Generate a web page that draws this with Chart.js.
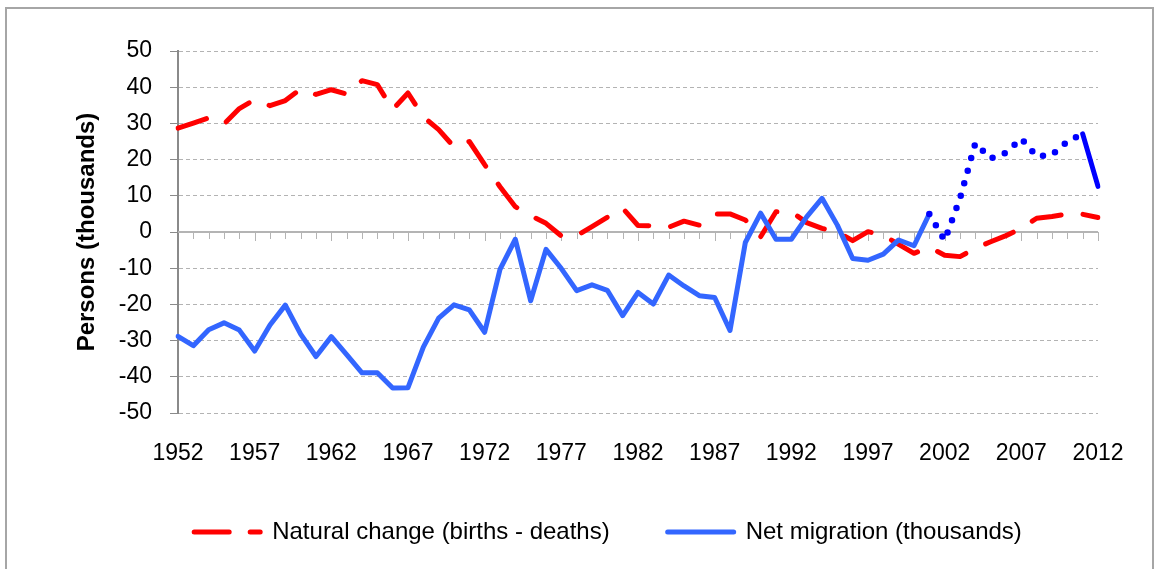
<!DOCTYPE html>
<html>
<head>
<meta charset="utf-8">
<script src="https://cdn.jsdelivr.net/npm/chart.js@4.4.1/dist/chart.umd.min.js"></script>
<style>
  html, body { margin: 0; padding: 0; background: #fff; overflow: hidden; }
  #wrap { position: relative; width: 1156px; height: 569px; }
  #frame { position: absolute; left: 5px; top: 7px; width: 1145px; height: 600px;
           border: 2px solid #a6a6a6; pointer-events: none; }
  canvas { position: absolute; left: 0; top: 0; }
</style>
</head>
<body>
<div id="wrap">
  <canvas id="chart" width="1156" height="569"></canvas>
  <div id="frame"></div>
</div>
<script>
// years on the category axis
var years = [1952,1953,1954,1955,1956,1957,1958,1959,1960,1961,
             1962,1963,1964,1965,1966,1967,1968,1969,1970,1971,
             1972,1973,1974,1975,1976,1977,1978,1979,1980,1981,
             1982,1983,1984,1985,1986,1987,1988,1989,1990,1991,
             1992,1993,1994,1995,1996,1997,1998,1999,2000,2001,
             2002,2003,2004,2005,2006,2007,2008,2009,2010,2011,2012];

// natural change (births - deaths), thousands
var naturalChange = [28.7,30.1,31.5,29.8,34.1,36.6,34.9,36.3,39.5,38.0,
                     39.3,38.1,41.8,40.7,33.8,38.4,31.8,28.3,23.5,25.0,
                     18.6,12.5,7.0,4.5,2.4,-1.1,-1.0,1.5,4.1,6.6,
                     1.8,1.7,1.3,3.0,1.9,5.0,5.0,3.3,-1.3,5.6,
                     5.6,2.6,1.0,0.0,-2.4,0.1,-0.9,-3.4,-5.9,-4.2,
                     -6.4,-6.8,-4.5,-2.7,-1.0,1.0,3.8,4.3,5.0,4.9,4.0];

// net migration, thousands
var netMigration = [-28.8,-31.4,-27.0,-25.1,-27.1,-32.9,-25.7,-20.2,-28.2,-34.4,
                    -28.9,-33.9,-38.9,-38.9,-43.1,-43.0,-31.8,-23.8,-20.1,-21.5,
                    -27.7,-10.3,-2.0,-19.0,-4.8,-10.1,-16.2,-14.6,-16.1,-23.1,
                    -16.7,-19.9,-11.9,-14.9,-17.6,-18.1,-27.2,-2.9,5.2,-2.0,
                    -2.0,4.2,9.3,1.9,-7.3,-7.8,-6.1,-2.2,-3.8,5.0,
                    -2.3,9.3,24.5,20.3,21.9,25.8,20.9,21.3,25.0,27.1,12.6];

var seriesNames = ["Natural change (births - deaths)", "Net migration (thousands)"];
var yTicks = { min: -50, max: 50, step: 10 };

var FONT = "'Liberation Sans', Arial, sans-serif";
var RED = "#ff0000", BLUE = "#3366ff", DARKBLUE = "#0000ff";

// provisional years from 2001 on are drawn dotted, the last one solid dark blue
var dottedFrom = years.indexOf(2001), dottedTo = years.indexOf(2011);

// zero line with small year ticks, like the category axis crossing at 0
var zeroAxis = {
  id: 'zeroAxis',
  beforeDatasetsDraw: function(chart) {
    var ctx = chart.ctx, x = chart.scales.x, y = chart.scales.y;
    var y0 = y.getPixelForValue(0);
    ctx.save();
    ctx.strokeStyle = '#b4b4b4';
    ctx.lineWidth = 2;
    ctx.beginPath();
    ctx.moveTo(chart.chartArea.left, y0);
    ctx.lineTo(chart.chartArea.right, y0);
    ctx.stroke();
    ctx.lineWidth = 1;
    for (var i = 1; i < years.length; i++) {
      var px = Math.round(x.getPixelForValue(i)) + 0.5;
      ctx.beginPath();
      ctx.moveTo(px, y0);
      ctx.lineTo(px, y0 + (i % 5 === 0 ? 9 : 7));
      ctx.stroke();
    }
    ctx.restore();
  }
};

new Chart(document.getElementById('chart'), {
  type: 'line',
  data: {
    labels: years,
    datasets: [
      {
        label: seriesNames[0],
        data: naturalChange,
        borderColor: RED,
        borderWidth: 5,
        borderDash: [30, 22],
        borderCapStyle: 'round',
        borderJoinStyle: 'round',
        pointRadius: 0,
        tension: 0,
        fill: false,
        order: 1
      },
      {
        label: seriesNames[1],
        data: netMigration,
        borderColor: BLUE,
        borderWidth: 5,
        borderCapStyle: 'round',
        borderJoinStyle: 'round',
        pointRadius: 0,
        tension: 0,
        fill: false,
        order: 0,
        segment: {
          borderColor: function(c) { return c.p0DataIndex >= dottedFrom ? DARKBLUE : undefined; },
          borderWidth: function(c) {
            return (c.p0DataIndex >= dottedFrom && c.p0DataIndex < dottedTo) ? 6.5 : undefined;
          },
          borderDash: function(c) {
            return (c.p0DataIndex >= dottedFrom && c.p0DataIndex < dottedTo) ? [0, 13] : undefined;
          }
        }
      }
    ]
  },
  options: {
    responsive: false,
    animation: false,
    layout: { padding: { left: 118, right: 58, top: 51, bottom: 15 } },
    plugins: {
      tooltip: { enabled: false },
      legend: {
        position: 'bottom',
        labels: {
          usePointStyle: true,
          pointStyleWidth: 66,
          padding: 58,
          color: '#000',
          font: { family: FONT, size: 24 },
          generateLabels: function(chart) {
            return [
              { text: seriesNames[0], pointStyle: 'line', strokeStyle: RED, fillStyle: RED,
                lineWidth: 5, lineDash: [35, 21], lineCap: 'round', datasetIndex: 0 },
              { text: seriesNames[1], pointStyle: 'line', strokeStyle: BLUE, fillStyle: BLUE,
                lineWidth: 5, lineCap: 'round', datasetIndex: 1 }
            ];
          }
        }
      }
    },
    scales: {
      x: {
        type: 'category',
        offset: false,
        grid: { display: false },
        border: { display: false },
        afterFit: function(s) { s.height = 49; },
        ticks: {
          autoSkip: false,
          maxRotation: 0,
          padding: 21,
          color: '#000',
          font: { family: FONT, size: 23, lineHeight: 1 },
          callback: function(v, i) { return i % 5 === 0 ? years[i] : ''; }
        }
      },
      y: {
        min: yTicks.min,
        max: yTicks.max,
        afterFit: function(s) { s.width = 178 - 118; },
        grid: {
          color: '#b3b3b3',
          lineWidth: 1,
          tickLength: 8,
          tickColor: '#8a8a8a',
          tickWidth: 1,
          tickBorderDash: []
        },
        border: { display: true, color: '#8a8a8a', width: 2, dash: [4, 3] },
        ticks: {
          stepSize: yTicks.step,
          padding: 18,
          color: '#000',
          font: { family: FONT, size: 23 }
        },
        title: {
          display: true,
          text: 'Persons (thousands)',
          color: '#000',
          padding: { top: -45, bottom: 0 },
          font: { family: FONT, size: 24, weight: 'bold' }
        }
      }
    }
  },
  plugins: [zeroAxis]
});
</script>
</body>
</html>
